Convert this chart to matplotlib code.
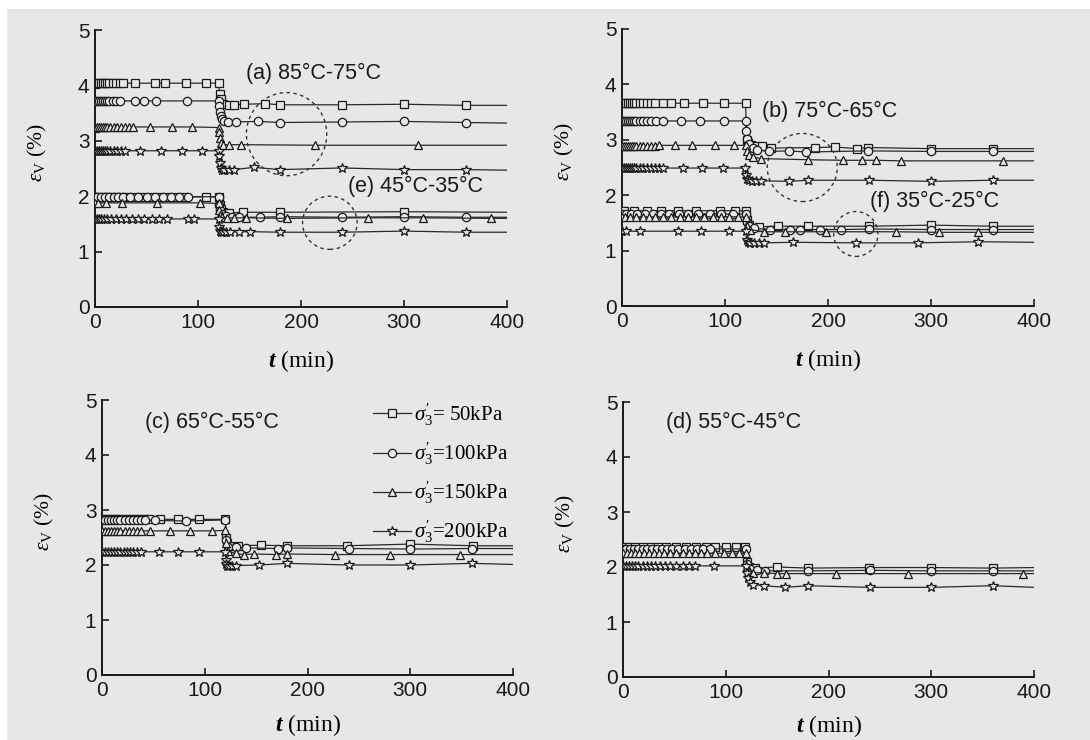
import matplotlib
matplotlib.use("Agg")
import matplotlib.pyplot as plt
from matplotlib.patches import Ellipse, Rectangle

plt.rcParams['mathtext.fontset'] = 'custom'
plt.rcParams['mathtext.rm'] = 'Liberation Serif'
plt.rcParams['mathtext.it'] = 'Liberation Serif:italic'
plt.rcParams['mathtext.bf'] = 'Liberation Serif:bold'
plt.rcParams['mathtext.bfit'] = 'Liberation Serif:italic:bold'
plt.rcParams['font.family'] = ['Liberation Sans', 'DejaVu Sans']

BG = '#e7e7e7'

# ---------------- data (t in min, eps_v in %) ----------------
# (a) 85°C-75°C
A50_t = [0, 2, 4, 6, 8, 10, 12, 14, 17, 20, 24, 27, 39, 58, 68, 88, 108, 120,
         121, 122, 124, 130, 135, 145, 165, 180, 240, 300, 360, 400]
A50_v = [4.03, 4.04, 4.04, 4.04, 4.04, 4.04, 4.04, 4.04, 4.04, 4.04, 4.04, 4.04,
         4.04, 4.04, 4.04, 4.04, 4.04, 4.04,
         3.85, 3.75, 3.66, 3.65, 3.65, 3.66, 3.67, 3.65, 3.65, 3.66, 3.64, 3.64]
A100_t = [0, 2, 4, 6, 8, 10, 12, 14, 17, 20, 24, 39, 48, 59, 89, 120,
          120.5, 121, 122, 123, 125, 129, 137, 158, 180, 240, 300, 360, 400]
A100_v = [3.71, 3.72, 3.72, 3.72, 3.72, 3.72, 3.72, 3.72, 3.72, 3.72, 3.72,
          3.72, 3.72, 3.72, 3.72, 3.72,
          3.62, 3.52, 3.44, 3.39, 3.36, 3.34, 3.34, 3.35, 3.33, 3.34, 3.35, 3.33, 3.32]
A150_t = [0, 2, 4, 6, 8, 10, 12, 15, 18, 21, 25, 29, 33, 37, 53, 75, 94, 120,
          120.5, 121, 122, 124, 130, 142, 214, 314, 400]
A150_v = [3.24, 3.25, 3.25, 3.25, 3.25, 3.25, 3.25, 3.25, 3.25, 3.25, 3.25, 3.25, 3.25,
          3.25, 3.25, 3.25, 3.25, 3.24,
          3.15, 3.05, 2.96, 2.93, 2.93, 2.93, 2.92, 2.92, 2.92]
A200_t = [0, 2, 4, 6, 8, 10, 12, 15, 18, 21, 25, 29, 44, 64, 84, 104, 120,
          120.5, 121, 122, 123, 125, 130, 135, 154, 180, 240, 300, 360, 400]
A200_v = [2.81, 2.82, 2.82, 2.82, 2.82, 2.82, 2.82, 2.82, 2.82, 2.82, 2.82, 2.82,
          2.82, 2.82, 2.82, 2.82, 2.82,
          2.72, 2.60, 2.51, 2.48, 2.47, 2.47, 2.48, 2.52, 2.48, 2.51, 2.48, 2.48, 2.47]
# (e) 45°C-35°C
E50_t = [0, 4, 8, 12, 16, 20, 25, 30, 38, 46, 54, 62, 70, 78, 86, 108, 120,
         121, 122, 124, 130, 144, 180, 300, 400]
E50_v = [1.98, 1.99, 1.99, 1.99, 1.99, 1.99, 1.99, 1.99, 1.99, 1.99, 1.99, 1.99,
         1.99, 1.99, 1.99, 1.99, 1.99,
         1.85, 1.76, 1.71, 1.70, 1.71, 1.71, 1.72, 1.71]
E100_t = [0, 2, 6, 10, 14, 18, 22, 27, 34, 42, 50, 58, 66, 74, 82, 90, 120,
          120.5, 121, 123, 127, 133, 140, 160, 180, 240, 300, 360, 400]
E100_v = [1.98, 1.99, 1.99, 1.99, 1.99, 1.99, 1.99, 1.99, 1.99, 1.99, 1.99, 1.99,
          1.99, 1.99, 1.99, 1.99, 1.99,
          1.85, 1.75, 1.68, 1.64, 1.63, 1.62, 1.62, 1.63, 1.62, 1.63, 1.62, 1.62]
E150_t = [0, 3, 11, 26, 60, 102, 120,
          120.5, 121, 123, 128, 135, 147, 186, 265, 318, 384, 400]
E150_v = [1.87, 1.88, 1.88, 1.88, 1.88, 1.88, 1.87,
          1.75, 1.66, 1.62, 1.61, 1.61, 1.61, 1.60, 1.61, 1.61, 1.60, 1.60]
E200_t = [0, 2, 4, 6, 9, 12, 16, 20, 25, 30, 36, 42, 48, 55, 62, 70, 90, 96, 120,
          120.5, 121, 122, 124, 127, 131, 140, 150, 180, 240, 300, 360, 400]
E200_v = [1.58, 1.59, 1.59, 1.59, 1.59, 1.59, 1.59, 1.59, 1.59, 1.59, 1.59, 1.59,
          1.59, 1.59, 1.59, 1.59, 1.59, 1.59, 1.59,
          1.45, 1.38, 1.36, 1.35, 1.35, 1.36, 1.36, 1.36, 1.35, 1.35, 1.37, 1.35, 1.35]
# (b) 75°C-65°C
B50_t = [0, 2, 4, 6, 8, 10, 12, 14, 17, 20, 24, 28, 32, 40, 48, 60, 79, 99, 120,
         121, 122, 125, 130, 136, 145, 187, 207, 228, 239, 300, 360, 400]
B50_v = [3.66, 3.66, 3.66, 3.66, 3.66, 3.66, 3.66, 3.66, 3.66, 3.66, 3.66, 3.66, 3.66,
         3.66, 3.66, 3.66, 3.66, 3.66, 3.66,
         3.00, 2.95, 2.90, 2.88, 2.89, 2.85, 2.86, 2.87, 2.84, 2.86, 2.84, 2.84, 2.84]
B100_t = [0, 2, 4, 6, 8, 10, 12, 14, 17, 20, 24, 28, 33, 40, 57, 76, 99, 120,
          120.5, 121, 123, 127, 131, 143, 162, 179, 239, 300, 360, 400]
B100_v = [3.34, 3.34, 3.34, 3.34, 3.34, 3.34, 3.34, 3.34, 3.34, 3.34, 3.34, 3.34,
          3.34, 3.34, 3.34, 3.34, 3.34, 3.34,
          3.15, 3.02, 2.92, 2.86, 2.82, 2.79, 2.80, 2.78, 2.80, 2.79, 2.79, 2.79]
B150_t = [0, 2, 4, 6, 8, 10, 12, 14, 17, 20, 24, 28, 32, 36, 51, 68, 90, 109, 120,
          121, 123, 127, 135, 181, 215, 233, 247, 271, 370, 400]
B150_v = [2.89, 2.89, 2.89, 2.89, 2.89, 2.89, 2.89, 2.89, 2.89, 2.89, 2.89, 2.89, 2.89,
          2.90, 2.90, 2.90, 2.90, 2.90, 2.90,
          2.80, 2.72, 2.69, 2.66, 2.64, 2.63, 2.63, 2.63, 2.62, 2.62, 2.62]
B200_t = [0, 2, 4, 6, 8, 10, 12, 14, 17, 20, 24, 28, 32, 36, 40, 59, 78, 98, 119,
          120.5, 121, 123, 126, 130, 135, 162, 181, 240, 300, 360, 400]
B200_v = [2.49, 2.49, 2.49, 2.49, 2.49, 2.49, 2.49, 2.49, 2.49, 2.49, 2.49, 2.49, 2.49, 2.49,
          2.49, 2.49, 2.49, 2.49, 2.49,
          2.36, 2.30, 2.27, 2.26, 2.26, 2.26, 2.25, 2.27, 2.27, 2.25, 2.27, 2.27]
# (f) 35°C-25°C
F50_t = [0, 2, 12, 24, 38, 54, 72, 95, 110, 120,
         121, 123, 133, 151, 181, 240, 300, 360, 400]
F50_v = [1.71, 1.72, 1.72, 1.72, 1.72, 1.72, 1.72, 1.72, 1.72, 1.72,
         1.55, 1.46, 1.43, 1.44, 1.44, 1.44, 1.46, 1.44, 1.44]
F100_t = [0, 4, 9, 15, 22, 30, 38, 46, 55, 64, 74, 85, 96, 108, 120,
          121, 123, 128, 144, 163, 173, 192, 213, 240, 300, 360, 400]
F100_v = [1.66, 1.66, 1.66, 1.66, 1.66, 1.66, 1.66, 1.66, 1.66, 1.66, 1.66, 1.66, 1.66, 1.66, 1.66,
          1.52, 1.44, 1.40, 1.38, 1.38, 1.38, 1.38, 1.38, 1.39, 1.38, 1.38, 1.38]
F150_t = [0, 3, 8, 14, 20, 26, 32, 40, 48, 56, 64, 72, 80, 88, 96, 104, 113, 120,
          121, 124, 138, 158, 198, 266, 308, 346, 400]
F150_v = [1.60, 1.61, 1.61, 1.61, 1.61, 1.61, 1.61, 1.61, 1.61, 1.61, 1.61, 1.61,
          1.61, 1.61, 1.61, 1.61, 1.61, 1.60,
          1.45, 1.38, 1.34, 1.34, 1.34, 1.34, 1.33, 1.33, 1.33]
F200_t = [0, 4, 17, 54, 77, 104, 120,
          121, 122, 124, 128, 133, 138, 166, 227, 287, 346, 400]
F200_v = [1.35, 1.35, 1.35, 1.35, 1.35, 1.35, 1.35,
          1.20, 1.15, 1.14, 1.14, 1.14, 1.14, 1.15, 1.14, 1.14, 1.16, 1.15]
# (c) 65°C-55°C
C50_t = [0, 3, 6, 9, 12, 15, 18, 22, 26, 30, 34, 38, 42, 46, 56, 74, 94, 120,
         121, 122, 124, 132, 155, 180, 238, 300, 361, 400]
C50_v = [2.83, 2.83, 2.83, 2.83, 2.83, 2.83, 2.83, 2.83, 2.83, 2.83, 2.83, 2.83, 2.83, 2.83,
         2.83, 2.83, 2.83, 2.83,
         2.50, 2.40, 2.35, 2.35, 2.36, 2.35, 2.35, 2.38, 2.35, 2.35]
C100_t = [0, 3, 6, 9, 12, 15, 18, 22, 26, 30, 34, 38, 42, 52, 82, 120,
          121, 123, 130, 140, 171, 180, 240, 300, 360, 400]
C100_v = [2.82, 2.82, 2.82, 2.82, 2.82, 2.82, 2.82, 2.82, 2.82, 2.82, 2.82, 2.82, 2.82,
          2.81, 2.80, 2.82,
          2.45, 2.33, 2.32, 2.31, 2.30, 2.31, 2.30, 2.29, 2.30, 2.30]
C150_t = [0, 3, 6, 9, 12, 15, 18, 22, 26, 30, 34, 38, 47, 66, 86, 107, 120,
          121, 123, 130, 138, 148, 169, 180, 227, 280, 348, 400]
C150_v = [2.62, 2.62, 2.62, 2.62, 2.62, 2.62, 2.62, 2.62, 2.62, 2.62, 2.62, 2.62,
          2.62, 2.62, 2.62, 2.62, 2.63,
          2.40, 2.25, 2.21, 2.19, 2.20, 2.19, 2.20, 2.19, 2.19, 2.19, 2.19]
C200_t = [0, 3, 6, 9, 12, 15, 18, 21, 24, 27, 30, 34, 38, 55, 74, 94, 120,
          120.5, 121, 122, 124, 127, 130, 153, 180, 240, 300, 360, 400]
C200_v = [2.24, 2.24, 2.24, 2.24, 2.24, 2.24, 2.24, 2.24, 2.24, 2.24, 2.24, 2.24, 2.24,
          2.24, 2.24, 2.24, 2.24,
          2.10, 2.02, 1.99, 1.99, 1.99, 1.99, 2.00, 2.03, 2.00, 2.00, 2.03, 2.01]
# (d) 55°C-45°C
D50_t = [0, 6, 12, 19, 27, 34, 42, 52, 61, 71, 81, 90, 100, 110, 119,
         121, 123, 128, 150, 180, 239, 300, 360, 400]
D50_v = [2.37, 2.37, 2.37, 2.37, 2.37, 2.37, 2.37, 2.37, 2.37, 2.37, 2.37, 2.37, 2.37, 2.37, 2.37,
         2.10, 2.00, 1.98, 2.00, 1.98, 1.99, 1.99, 1.98, 1.99]
D100_t = [0, 3, 7, 11, 15, 19, 23, 28, 33, 38, 43, 48, 54, 60, 66, 72, 78, 85, 120,
          121, 124, 130, 138, 180, 240, 300, 360, 400]
D100_v = [2.33, 2.33, 2.33, 2.33, 2.33, 2.33, 2.33, 2.33, 2.33, 2.33, 2.33, 2.33,
          2.33, 2.33, 2.33, 2.33, 2.33, 2.33, 2.33,
          2.05, 1.96, 1.94, 1.93, 1.93, 1.94, 1.93, 1.93, 1.93]
D150_t = [0, 4, 8, 12, 16, 20, 25, 30, 35, 40, 46, 52, 58, 64, 70, 76, 82, 90, 98, 106, 113, 120,
          121, 123, 127, 137, 150, 159, 207, 277, 389, 400]
D150_v = [2.25, 2.25, 2.25, 2.25, 2.25, 2.25, 2.25, 2.25, 2.25, 2.25, 2.25, 2.25,
          2.25, 2.25, 2.25, 2.25, 2.25, 2.25, 2.25, 2.25, 2.25, 2.25,
          2.00, 1.93, 1.90, 1.89, 1.88, 1.88, 1.88, 1.88, 1.88, 1.88]
D200_t = [0, 3, 6, 9, 12, 15, 19, 23, 27, 31, 36, 41, 46, 52, 58, 64, 70, 89, 120,
          121, 122, 124, 127, 137, 158, 180, 240, 300, 360, 400]
D200_v = [2.02, 2.02, 2.02, 2.02, 2.02, 2.02, 2.02, 2.02, 2.02, 2.02, 2.02, 2.02,
          2.02, 2.02, 2.02, 2.02, 2.02, 2.02, 2.02,
          1.90, 1.80, 1.73, 1.68, 1.66, 1.63, 1.66, 1.63, 1.63, 1.66, 1.63]

LEGEND_LABELS = [r"$\sigma^{\prime}_{3}$= 50kPa", r"$\sigma^{\prime}_{3}$=100kPa",
                 r"$\sigma^{\prime}_{3}$=150kPa", r"$\sigma^{\prime}_{3}$=200kPa"]
MARKERS = ['s', 'o', '^', '*']
MSIZES = [5.5, 6.0, 6.0, 7.5]

PANELS = [
    # rect in pixels (left, top, right, bottom), groups, annotations, ellipses
    dict(rect=(95, 30, 507, 307), xl=-0.15,
         groups=[[(A50_t, A50_v), (A100_t, A100_v), (A150_t, A150_v), (A200_t, A200_v)],
                 [(E50_t, E50_v), (E100_t, E100_v), (E150_t, E150_v), (E200_t, E200_v)]],
         notes=[(147, 4.22, "(a) 85°C-75°C"), (246, 2.17, "(e) 45°C-35°C")],
         ells=[(186, 3.12, 78, 1.50), (228, 1.52, 53, 0.96)]),
    dict(rect=(622, 29, 1034, 306), xl=-0.15,
         groups=[[(B50_t, B50_v), (B100_t, B100_v), (B150_t, B150_v), (B200_t, B200_v)],
                 [(F50_t, F50_v), (F100_t, F100_v), (F150_t, F150_v), (F200_t, F200_v)]],
         notes=[(135.5, 3.51, "(b) 75°C-65°C"), (240.5, 1.88, "(f) 35°C-25°C")],
         ells=[(175, 2.50, 68, 1.23), (227, 1.30, 43, 0.81)]),
    dict(rect=(102, 400, 513, 675), xl=-0.135,
         groups=[[(C50_t, C50_v), (C100_t, C100_v), (C150_t, C150_v), (C200_t, C200_v)]],
         notes=[(42, 4.6, "(c) 65°C-55°C")], ells=[]),
    dict(rect=(623, 402, 1034, 677), xl=-0.13,
         groups=[[(D50_t, D50_v), (D100_t, D100_v), (D150_t, D150_v), (D200_t, D200_v)]],
         notes=[(42, 4.63, "(d) 55°C-45°C")], ells=[]),
]

W, H = 1090, 740
fig = plt.figure(figsize=(W / 100, H / 100), dpi=100)
fig.patch.set_facecolor('white')
fig.patches.append(Rectangle((7 / W, 0), 1, (H - 9) / H, transform=fig.transFigure,
                             facecolor=BG, edgecolor='none', zorder=-10))

for pi, p in enumerate(PANELS):
    l, t, r, b = p['rect']
    ax = fig.add_axes([l / W, (H - b) / H, (r - l) / W, (b - t) / H])
    ax.set_facecolor('none')
    handles = []
    for grp in p['groups']:
        for k, (tt, vv) in enumerate(grp):
            ln, = ax.plot(tt, vv, color='#2a2a2a', lw=0.9, marker=MARKERS[k],
                          ms=MSIZES[k], mfc=BG, mec='#1a1a1a', mew=0.9,
                          markevery=list(range(len(tt) - 1)), zorder=3 + k * 0.1)
            handles.append(ln)
    for (x, y, txt) in p['notes']:
        ax.text(x, y, txt, fontsize=15.5, family=['Liberation Sans', 'DejaVu Sans'],
                ha='left', va='center', color='#1a1a1a')
    for (cx, cy, w, h) in p['ells']:
        ax.add_patch(Ellipse((cx, cy), w, h, fill=False, ls=(0, (2.5, 2.5)),
                             lw=1.0, edgecolor='#333333', zorder=2))
    ax.set_xlim(0, 400)
    ax.set_ylim(0, 5)
    ax.set_xticks([0, 100, 200, 300, 400])
    ax.set_yticks([0, 1, 2, 3, 4, 5])
    for s in ['top', 'right']:
        ax.spines[s].set_visible(False)
    for s in ['left', 'bottom']:
        ax.spines[s].set_linewidth(1.4)
        ax.spines[s].set_color('#1a1a1a')
    ax.tick_params(direction='in', length=5, width=1.2, labelsize=15, pad=4,
                   colors='#1a1a1a')
    ax.set_xlabel(r"$\mathbfit{t}$ (min)", fontsize=17, family='Liberation Serif')
    ax.xaxis.set_label_coords(0.5, p['xl'])
    ax.set_ylabel(r"$\varepsilon_{\mathrm{V}}$ (%)", fontsize=15.5, family='Liberation Serif')
    ax.yaxis.set_label_coords(-0.112, 0.556)
    if pi == 2:
        ax.legend(handles[:4], LEGEND_LABELS, loc='upper left',
                  bbox_to_anchor=(0.66, 0.995), frameon=False,
                  prop={'family': 'Liberation Serif', 'size': 15},
                  handlelength=1.8, handletextpad=0.15, labelspacing=0.6,
                  borderpad=0, borderaxespad=0)

fig.savefig('out.png', dpi=100, facecolor=fig.get_facecolor())
